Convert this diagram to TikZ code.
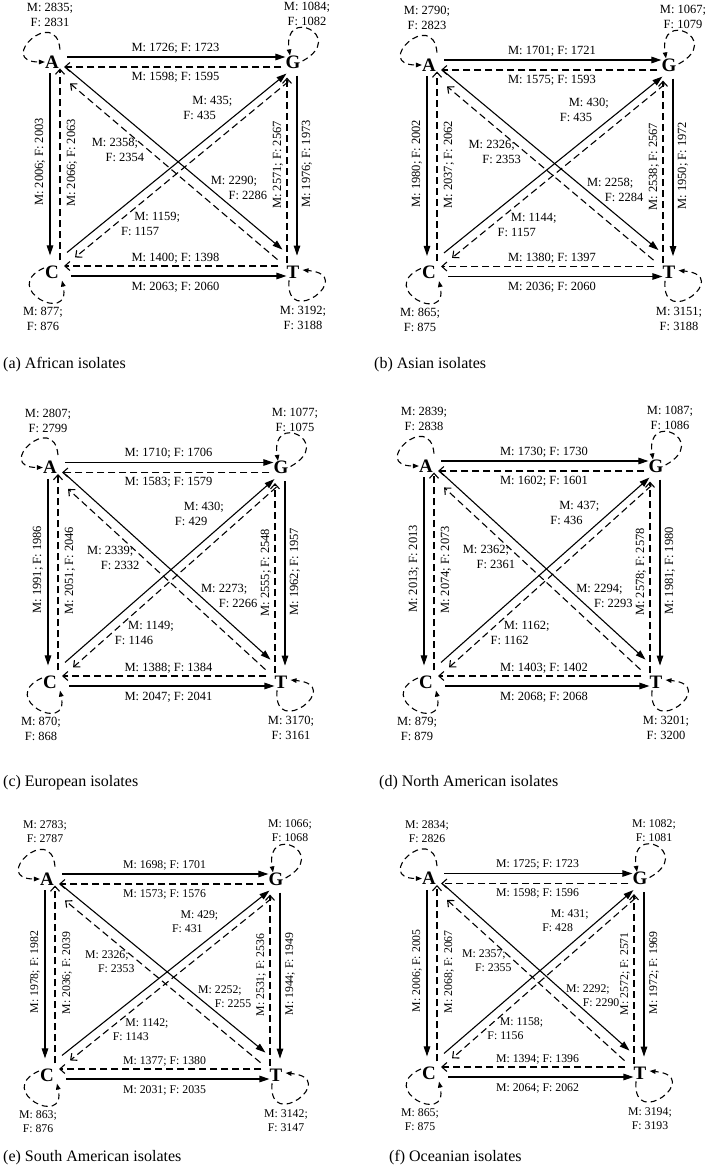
\documentclass[tikz,border=0pt]{standalone}
\usepackage{fontspec}
\setmainfont{Liberation Serif}
\usetikzlibrary{arrows.meta}

% count labels from "M/F" pairs
\newcommand{\mf}[1]{\expandafter\mfsplit#1\relax}
\def\mfsplit#1/#2\relax{M: #1; F: #2}
\newcommand{\mftwo}[3]{\expandafter\mftwosplit#3\relax{#1}{#2}}
\def\mftwosplit#1/#2\relax#3#4{\hspace*{#3}M: #1;\\\hspace*{#4}F: #2}

% counts of one panel
\newcommand{\setloops}[4]{\def\lpA{#1}\def\lpG{#2}\def\lpC{#3}\def\lpT{#4}}
\newcommand{\setsides}[8]{\def\eAG{#1}\def\eGA{#2}\def\eAC{#3}\def\eCA{#4}%
  \def\eGT{#5}\def\eTG{#6}\def\eCT{#7}\def\eTC{#8}}
\newcommand{\setdiags}[4]{\def\eAT{#1}\def\eTA{#2}\def\eCG{#3}\def\eGC{#4}}

% one panel: A at (#1,#2), width #3, height #4, font #5/#6
\newcommand{\panel}[6]{%
\begin{scope}[shift={(#1,-#2)}, lbl/.style={font=\fontsize{#5}{#6}\selectfont, inner sep=0pt}]
  % Bases
  \node[nuc] (A) at (0,0) {A};
  \node[nuc] (G) at (#3,0) {G};
  \node[nuc] (C) at (0,-#4) {C};
  \node[nuc] (T) at (#3,-#4) {T};
  % Self loops
  \draw[selfarc] ([shift={(8,6)}]A.north) .. controls +(-4,45) and +(-50,0) .. (A.west);
  \draw[selfarc] ([shift={(2,1)}]G.east) .. controls +(45,25) and +(-8,50) .. ([shift={(-3,0)}]G.north);
  \draw[selfarc] ([shift={(-1,4)}]C.west) .. controls +(-45,-20) and +(10,-45) .. ([shift={(10,-2)}]C.south);
  \draw[selfarc] ([shift={(-4,-2)}]T.south) .. controls +(-4,-50) and +(55,-5) .. ([shift={(3,2)}]T.east);
  % Sides
  \draw[fwd] ([shift={(8,5)}]A.east) -- ([shift={(0,5)}]G.west);
  \draw[bwd] ([shift={(-4,-5)}]G.west) -- ([shift={(5,-5)}]A.east);
  \draw[fwd] ([shift={(-2,-5)}]A.south) -- ([shift={(-2,10)}]C.north);
  \draw[bwd] ([shift={(8,5)}]C.north) -- ([shift={(8,0)}]A.south);
  \draw[fwd] ([shift={(4,-7)}]G.south) -- ([shift={(4,10)}]T.north);
  \draw[bwd] ([shift={(-6,3)}]T.north) -- ([shift={(-6,-9)}]G.south);
  \draw[fwd] ([shift={(12,-4)}]C.east) -- ([shift={(0,-4)}]T.west);
  \draw[bwd] ([shift={(-8,6)}]T.west) -- ([shift={(5,6)}]C.east);
  % Diagonals
  \draw[fwd] ([shift={(8,0)}]A.south east) -- ([shift={(-4,16)}]T.north west);
  \draw[bwd] ([shift={(-9,6)}]T.north west) -- ([shift={(11,-15)}]A.south east);
  \draw[fwd] ([shift={(8,13)}]C.north east) -- ([shift={(1,-5)}]G.south west);
  \draw[bwd] ([shift={(3,-13)}]G.south west) -- ([shift={(16,8)}]C.north east);
  % Loop counts
  \node[lbl, align=center] (nA) at (-2,47) {\mftwo{0pt}{0pt}\lpA};
  \node[lbl, align=center] (nG) at (#3+14,48) {\mftwo{0pt}{0pt}\lpG};
  \node[lbl, align=center] (nC) at (-9,-#4-47) {\mftwo{0pt}{0pt}\lpC};
  \node[lbl, align=center] (nT) at (#3+10,-#4-46) {\mftwo{0pt}{0pt}\lpT};
  % Side counts
  \node[lbl] (nAG) at (#3/2+3,14) {\mf\eAG};
  \node[lbl] (nGA) at (#3/2+3,-15) {\mf\eGA};
  \node[lbl] (nTC) at (#3/2+3,-#4+14) {\mf\eTC};
  \node[lbl] (nCT) at (#3/2+3,-#4-15) {\mf\eCT};
  \node[lbl, rotate=90] (nAC) at (-12,-#4/2+5) {\mf\eAC};
  \node[lbl, rotate=90] (nCA) at (20,-#4/2+4) {\mf\eCA};
  \node[lbl, rotate=90] (nTG) at (#3-15,-#4/2+2) {\mf\eTG};
  \node[lbl, rotate=90] (nGT) at (#3+14,-#4/2+3) {\mf\eGT};
  % Diagonal counts
  \node[lbl, align=left] (nCG) at (0.647*#3,-0.217*#4) {\mftwo{0.72em}{0pt}\eCG};
  \node[lbl, align=left] (nTA) at (0.274*#3,-0.421*#4) {\mftwo{0pt}{1.1em}\eTA};
  \node[lbl, align=left] (nAT) at (0.776*#3,-0.6*#4) {\mftwo{0pt}{1.42em}\eAT};
  \node[lbl, align=left] (nGC) at (0.409*#3,-0.771*#4) {\mftwo{1.06em}{0pt}\eGC};
\end{scope}}

\begin{document}
\begin{tikzpicture}[
    x=1pt, y=1pt,
    nuc/.style={font=\fontsize{19}{19}\selectfont\bfseries, inner sep=0pt},
    captext/.style={font=\fontsize{16}{19}\selectfont, inner sep=0pt, anchor=west},
    fwd/.style={-{Triangle[length=10pt,width=6.5pt]}, line width=1.1pt},
    bwd/.style={-{Straight Barb[length=5pt,width=9pt]}, line width=1.1pt, dash pattern=on 7pt off 4pt},
    selfarc/.style={-{Triangle[length=6pt,width=4.5pt]}, line width=1.1pt, dash pattern=on 6pt off 4pt},
]
\useasboundingbox (0,0) rectangle (708,-1172);

% (a)
\setloops{2835/2831}{1084/1082}{877/876}{3192/3188}
\setsides{1726/1723}{1598/1595}{2006/2003}{2066/2063}{1976/1973}{2571/2567}{2063/2060}{1400/1398}
\setdiags{2290/2286}{2358/2354}{435/435}{1159/1157}
\panel{52}{62}{241}{210}{12.5}{15}

% (b)
\setloops{2790/2823}{1067/1079}{865/875}{3151/3188}
\setsides{1701/1721}{1575/1593}{1980/2002}{2037/2062}{1950/1972}{2538/2567}{2036/2060}{1380/1397}
\setdiags{2258/2284}{2326/2353}{430/435}{1144/1157}
\panel{429}{65}{240}{207.5}{12.5}{15}

% (c)
\setloops{2807/2799}{1077/1075}{870/868}{3170/3161}
\setsides{1710/1706}{1583/1579}{1991/1986}{2051/2046}{1962/1957}{2555/2548}{2047/2041}{1388/1384}
\setdiags{2273/2266}{2339/2332}{430/429}{1149/1146}
\panel{50}{467.5}{231}{214.5}{12.5}{15}

% (d)
\setloops{2839/2838}{1087/1086}{879/879}{3201/3200}
\setsides{1730/1730}{1602/1601}{2013/2013}{2074/2073}{1981/1980}{2578/2578}{2068/2068}{1403/1402}
\setdiags{2294/2293}{2362/2361}{437/436}{1162/1162}
\panel{426}{466}{230}{216}{12.5}{15}

% (e)
\setloops{2783/2787}{1066/1068}{863/876}{3142/3147}
\setsides{1698/1701}{1573/1576}{1978/1982}{2036/2039}{1944/1949}{2531/2536}{2031/2035}{1377/1380}
\setdiags{2252/2255}{2326/2353}{429/431}{1142/1143}
\panel{47}{879}{229}{196}{11.8}{14}

% (f)
\setloops{2834/2826}{1082/1081}{865/875}{3194/3193}
\setsides{1725/1723}{1598/1596}{2006/2005}{2068/2067}{1972/1969}{2572/2571}{2064/2062}{1394/1396}
\setdiags{2292/2290}{2357/2355}{431/428}{1158/1156}
\panel{429}{878.5}{211}{194.5}{11.8}{14}

% Captions
\node[captext] (capa) at (3,-365) {(a) African isolates};
\node[captext] (capb) at (374,-365) {(b) Asian isolates};
\node[captext] (capc) at (3,-783) {(c) European isolates};
\node[captext] (capd) at (379,-783) {(d) North American isolates};
\node[captext] (cape) at (3,-1158) {(e) South American isolates};
\node[captext] (capf) at (389,-1158) {(f) Oceanian isolates};

\end{tikzpicture}
\end{document}
